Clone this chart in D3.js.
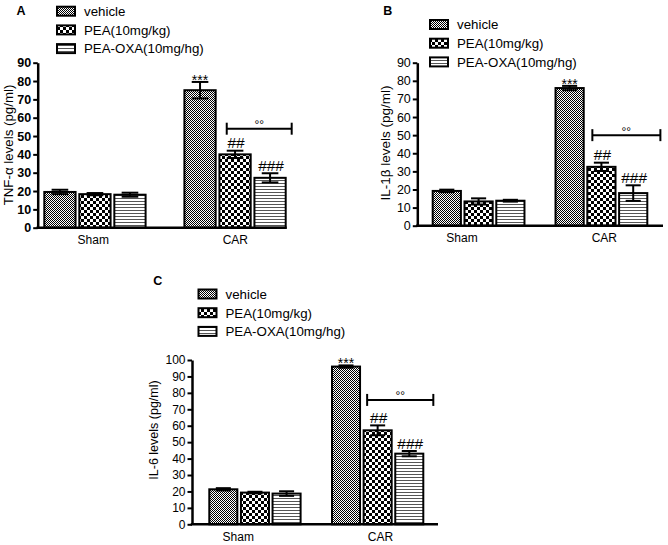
<!DOCTYPE html>
<html><head><meta charset="utf-8">
<script src="https://cdnjs.cloudflare.com/ajax/libs/d3/7.8.5/d3.min.js"></script>
<style>
body{margin:0;background:#fff}
svg{display:block}
text{font-family:"Liberation Sans",Arial,Helvetica,sans-serif;fill:#000}
</style>
</head><body>
<svg id="chart" width="668" height="545"></svg>
<script>
// ---------------- data ----------------
const categories = ["Sham", "CAR"];
const seriesNames = ["vehicle", "PEA(10mg/kg)", "PEA-OXA(10mg/hg)"];

const tnfValues  = [[19.5, 18.3, 18.0], [75.0, 40.0, 27.2]];
const tnfErrors  = [[1.2, 0.6, 1.1], [4.5, 2.0, 2.5]];
const il1bValues = [[19.2, 13.4, 13.8], [76.0, 32.5, 18.0]];
const il1bErrors = [[0.7, 1.7, 0.5], [1.2, 2.3, 4.3]];
const il6Values  = [[21.3, 19.3, 18.7], [96.0, 57.2, 43.0]];
const il6Errors  = [[0.7, 0.5, 1.4], [0.7, 3.0, 1.6]];

const ticks90  = [0, 10, 20, 30, 40, 50, 60, 70, 80, 90];
const ticks100 = [0, 10, 20, 30, 40, 50, 60, 70, 80, 90, 100];

const carAnnotations = ["***", "##", "###"];
const bracketValues = [54, 50, 75.7];   // A, B, C
const bracketLabel = "°°";

const panelLetters = ["A", "B", "C"];
const yTitles = ["TNF-α levels (pg/ml)", "IL-1β levels (pg/ml)", "IL-6 levels (pg/ml)"];

// ---------------- layout (positions/styles) ----------------
const panels = [
  {letter: panelLetters[0], letterX: 16.5, letterY: 15, title: yTitles[0], values: tnfValues, errors: tnfErrors,
   ticks: ticks90, yMax: 90, axisX: 37.7, y0: 227.7, yTop: 62.7, band: [43.3, 286.7], pad: 0.2627, axisEnd: 286.7,
   tickBold: true, tickFont: 12.5, titleX: 13, titleY: 145, titleFont: 13.3,
   legendX: 56, legendY: 5.7, catDx: [-1.7, 0.3], bracket: bracketValues[0], br: [0.25, 0.15]},
  {letter: panelLetters[1], letterX: 383.3, letterY: 15, title: yTitles[1], values: il1bValues, errors: il1bErrors,
   ticks: ticks90, yMax: 90, axisX: 417.3, y0: 225.7, yTop: 62.7, band: [431.7, 648.3], pad: 0.2365, axisEnd: 663,
   tickBold: false, tickFont: 12.5, titleX: 390, titleY: 143, titleFont: 13.5,
   legendX: 429, legendY: 19, catDx: [-16.6, 2.9], bracket: bracketValues[1], br: [0.2, 0.4]},
  {letter: panelLetters[2], letterX: 153.3, letterY: 285, title: yTitles[2], values: il6Values, errors: il6Errors,
   ticks: ticks100, yMax: 100, axisX: 192, y0: 524.3, yTop: 360, band: [208.3, 424.3], pad: 0.2396, axisEnd: 438,
   tickBold: false, tickFont: 12, titleX: 157.5, titleY: 430, titleFont: 12.5,
   legendX: 197.5, legendY: 288.5, catDx: [-16.7, 2.8], bracket: bracketValues[2], br: [0.15, 0.3]}
];

const svg = d3.select("#chart");
const defs = svg.append("defs");

// patterns
const pVeh = defs.append("pattern").attr("id", "pat0").attr("patternUnits", "userSpaceOnUse")
  .attr("width", 2).attr("height", 2);
pVeh.append("rect").attr("width", 2).attr("height", 2).attr("fill", "#fff");
pVeh.append("rect").attr("x", 0).attr("y", 0).attr("width", 1).attr("height", 1).attr("fill", "#000");
pVeh.append("rect").attr("x", 1).attr("y", 1).attr("width", 1).attr("height", 1).attr("fill", "#000");

const pPea = defs.append("pattern").attr("id", "pat1").attr("patternUnits", "userSpaceOnUse")
  .attr("width", 6).attr("height", 6);
pPea.append("rect").attr("width", 6).attr("height", 6).attr("fill", "#fff");
pPea.append("rect").attr("x", 0).attr("y", 0).attr("width", 3).attr("height", 3).attr("fill", "#000");
pPea.append("rect").attr("x", 3).attr("y", 3).attr("width", 3).attr("height", 3).attr("fill", "#000");

const pOxa = defs.append("pattern").attr("id", "pat2").attr("patternUnits", "userSpaceOnUse")
  .attr("width", 4).attr("height", 3);
pOxa.append("rect").attr("width", 4).attr("height", 3).attr("fill", "#fff");
pOxa.append("rect").attr("x", 0).attr("y", 0).attr("width", 4).attr("height", 1).attr("fill", "#555");

const fills = seriesNames.map((d, i) => `url(#pat${i})`);

panels.forEach(p => {
  const g = svg.append("g");
  const y = d3.scaleLinear().domain([0, p.yMax]).range([p.y0, p.yTop]);
  const x0 = d3.scaleBand().domain(categories).range(p.band).paddingInner(p.pad).paddingOuter(0);
  const x1 = d3.scaleBand().domain(seriesNames).range([0, x0.bandwidth()]).paddingInner(0.05).paddingOuter(0);
  const bw = x1.bandwidth();

  // panel letter
  g.append("text").attr("x", p.letterX).attr("y", p.letterY)
    .attr("font-size", 12.5).attr("font-weight", "bold").text(p.letter);

  // legend
  seriesNames.forEach((s, i) => {
    const ly = p.legendY + i * 18.7;
    g.append("rect").attr("x", p.legendX + 1).attr("y", ly + 1).attr("width", 18).attr("height", 9)
      .attr("fill", fills[i]).attr("stroke", "#000").attr("stroke-width", 2);
    g.append("text").attr("x", p.legendX + 28).attr("y", ly + 10.3)
      .attr("font-size", 13.3).text(s);
  });

  // bars
  categories.forEach((c, ci) => {
    seriesNames.forEach((s, si) => {
      const v = p.values[ci][si];
      const bx = x0(c) + x1(s);
      g.append("rect")
        .attr("x", bx + 1).attr("y", y(v))
        .attr("width", bw - 2).attr("height", y(0) - y(v))
        .attr("fill", fills[si]).attr("stroke", "#000").attr("stroke-width", 2);
    });
  });

  // error bars
  categories.forEach((c, ci) => {
    seriesNames.forEach((s, si) => {
      const v = p.values[ci][si], e = p.errors[ci][si];
      const cx = x0(c) + x1(s) + bw / 2;
      const cw = bw * 0.5;
      const eg = g.append("g").attr("stroke", "#000").attr("stroke-width", 2);
      eg.append("line").attr("x1", cx).attr("x2", cx).attr("y1", y(v - e)).attr("y2", y(v + e));
      eg.append("line").attr("x1", cx - cw / 2).attr("x2", cx + cw / 2).attr("y1", y(v + e)).attr("y2", y(v + e));
      eg.append("line").attr("x1", cx - cw / 2).attr("x2", cx + cw / 2).attr("y1", y(v - e)).attr("y2", y(v - e));
    });
  });

  // significance annotations on CAR group
  seriesNames.forEach((s, si) => {
    const v = p.values[1][si], e = p.errors[1][si];
    const cx = x0("CAR") + x1(s) + bw / 2;
    const ann = carAnnotations[si];
    const isStar = ann.startsWith("*");
    g.append("text").attr("x", cx + (isStar ? 0 : 1)).attr("y", y(v + e) + (isStar ? 2.8 : -2.5))
      .attr("text-anchor", "middle").attr("font-size", isStar ? 14 : 15.5)
      .attr("fill", isStar ? "#222" : "#000").text(ann);
  });

  // bracket between PEA and PEA-OXA
  const bxs = x0("CAR") + x1(seriesNames[1]) + bw * p.br[0];
  const bxe = x0("CAR") + x1(seriesNames[2]) + bw + bw * p.br[1];
  const by = y(p.bracket);
  const bg = g.append("g").attr("stroke", "#000").attr("stroke-width", 2);
  bg.append("line").attr("x1", bxs).attr("x2", bxe).attr("y1", by).attr("y2", by);
  bg.append("line").attr("x1", bxs).attr("x2", bxs).attr("y1", by - 6).attr("y2", by + 6);
  bg.append("line").attr("x1", bxe).attr("x2", bxe).attr("y1", by - 6).attr("y2", by + 6);
  g.append("text").attr("x", (bxs + bxe) / 2).attr("y", by + 0.5).attr("text-anchor", "middle")
    .attr("font-size", 12).attr("fill", "#666").text(bracketLabel);

  // y axis
  const yAxis = d3.axisLeft(y).tickValues(p.ticks).tickSize(4.5).tickSizeOuter(0).tickPadding(2);
  const ag = g.append("g").attr("transform", `translate(${p.axisX},0)`).call(yAxis);
  ag.select(".domain").attr("stroke", "#000").attr("stroke-width", 2.5);
  ag.selectAll(".tick line").attr("stroke", "#000").attr("stroke-width", 2);
  ag.selectAll(".tick text").attr("font-size", p.tickFont)
    .attr("font-weight", p.tickBold ? "bold" : "normal")
    .attr("font-family", '"Liberation Sans",Arial,sans-serif').attr("fill", "#000");

  // x axis line
  g.append("line").attr("x1", p.axisX - 1.25).attr("x2", p.axisEnd)
    .attr("y1", y(0)).attr("y2", y(0)).attr("stroke", "#000").attr("stroke-width", 2.5);

  // category labels
  categories.forEach((c, ci) => {
    g.append("text").attr("x", x0(c) + x0.bandwidth() / 2 + p.catDx[ci]).attr("y", y(0) + 16.5)
      .attr("text-anchor", "middle").attr("font-size", 12).text(c);
  });

  // y title
  g.append("text").attr("transform", `translate(${p.titleX},${p.titleY}) rotate(-90)`)
    .attr("text-anchor", "middle").attr("font-size", p.titleFont).text(p.title);
});
</script>
</body></html>
